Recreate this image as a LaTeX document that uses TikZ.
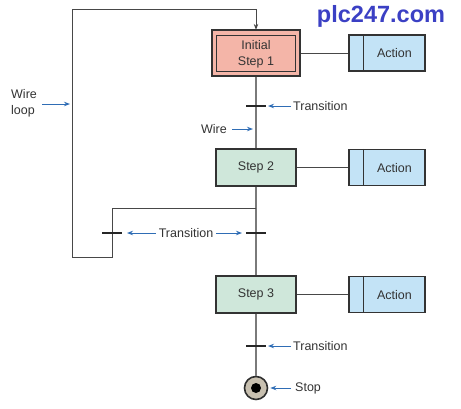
\documentclass[tikz,border=0pt]{standalone}
\usepackage{fontspec}
\setmainfont{Liberation Sans}
\usetikzlibrary{arrows.meta}
\definecolor{txt}{HTML}{333333}
\definecolor{wiregray}{HTML}{7A7A7A}
\definecolor{salmon}{HTML}{F4B5A8}
\definecolor{stepgreen}{HTML}{CFE7DA}
\definecolor{actblue}{HTML}{C3E3F6}
\definecolor{arrblue}{HTML}{2F6DB5}
\definecolor{webblue}{HTML}{3B40C4}
\definecolor{stopfill}{HTML}{C8C0B0}
\begin{document}
\begin{tikzpicture}[x=1pt,y=-1pt,
  every node/.style={font=\fontsize{12.5}{16}\selectfont, text=txt},
  stepbox/.style={draw=txt, line width=1.2pt, fill=stepgreen, minimum width=80pt, minimum height=37pt, inner sep=0pt},
  initbox/.style={draw=txt, line width=1.2pt, fill=salmon, minimum width=88pt, minimum height=46pt, inner sep=0pt, align=center},
  actbox/.style={draw=txt, line width=1.2pt, fill=actblue, minimum width=76pt, minimum height=36pt, inner sep=0pt, text depth=0pt},
  tbar/.style={fill=black!85, draw=none, minimum width=20pt, minimum height=2.2pt, inner sep=0pt, outer sep=0pt},
  wire/.style={draw=wiregray, line width=1.2pt},
  link/.style={draw=txt!90, line width=1pt},
  lbl/.style={inner sep=0pt},
  callout/.style={draw=arrblue, line width=1pt, -{Stealth[length=6pt,width=4.5pt]}},
]
\useasboundingbox (0,0) rectangle (461,408);

% watermark
\node[lbl, font=\fontsize{23.5}{26}\bfseries, text=webblue] (web) at (381,16) {plc247.com};

% steps
\node[initbox] (s1) at (256,53) {};
\draw[txt, line width=1pt] (216.5,35.5) rectangle (295.5,71.5);
\node[lbl, align=center] (s1t) at (256,54) {Initial\\Step 1};
\node[stepbox] (s2) at (256,167.5) {Step 2};
\node[stepbox] (s3) at (256,294.5) {Step 3};

% actions
\node[actbox] (a1) at (387,53) {\hspace*{15pt}Action};
\node[actbox] (a2) at (387,167.5) {\hspace*{15pt}Action};
\node[actbox] (a3) at (387,294.5) {\hspace*{15pt}Action};
\foreach \a in {a1,a2,a3}{
  \draw[txt, line width=1pt] ([xshift=15pt]\a.north west) -- ([xshift=15pt]\a.south west);
}
\draw[link] (s1.east) -- (a1.west);
\draw[link] (s2.east) -- (a2.west);
\draw[link] (s3.east) -- (a3.west);

% stop
\node[circle, draw=txt!90!black, line width=1.6pt, fill=stopfill, minimum size=23pt, inner sep=0pt] (stop) at (256,388) {};
\node[circle, fill=black, minimum size=10pt, inner sep=0pt] (stopdot) at (stop.center) {};

% coordinates
\coordinate (t1) at (256,106);
\coordinate (t2) at (256,233);
\coordinate (t3) at (256,346);
\coordinate (j) at (256,208);
\coordinate (w) at (256,129);
\coordinate (tl) at (112,233);
\coordinate (ltop) at (256,9);

% main wires
\draw[wire] (s1.south) -- (s2.north);
\draw[wire] (s2.south) -- (s3.north);
\draw[wire] (s3.south) -- (stop.north);

% loop
\draw[link] (j) -- (112,208) -- (112,257) -- (72,257) -- (72,9) -- (ltop);
\draw[link, -{Stealth[length=6pt,width=4.5pt]}] (ltop) -- ([yshift=-0.5pt]s1.north);

% transition bars
\node[tbar] (b1) at (t1) {};
\node[tbar] (b2) at (t2) {};
\node[tbar] (b3) at (t3) {};
\node[tbar] (bl) at (tl) {};

% labels
\node[lbl, anchor=west] (l1) at (293,106) {Transition};
\draw[callout] ([xshift=-2pt]l1.west) -- ([xshift=2pt]b1.east);
\node[lbl, anchor=west] (l3) at (293,346) {Transition};
\draw[callout] ([xshift=-2pt]l3.west) -- ([xshift=2pt]b3.east);
\node[lbl] (l2) at (186,233) {Transition};
\draw[callout] ([xshift=-3pt]l2.west) -- ([xshift=5pt]bl.east);
\draw[callout] ([xshift=3pt]l2.east) -- ([xshift=-4pt]b2.west);
\node[lbl, anchor=east] (lw) at (227,129) {Wire};
\draw[callout] ([xshift=5pt]lw.east) -- ([xshift=-3pt]w);
\node[lbl, anchor=west, align=left] (lloop) at (11,103) {Wire\\loop};
\draw[callout] ([xshift=5pt]lloop.east |- 0,104) -- (70,104);
\node[lbl, anchor=west] (ls) at (295,388) {Stop};
\draw[callout] ([xshift=-4pt]ls.west) -- ([xshift=2pt]stop.east);
\end{tikzpicture}
\end{document}
